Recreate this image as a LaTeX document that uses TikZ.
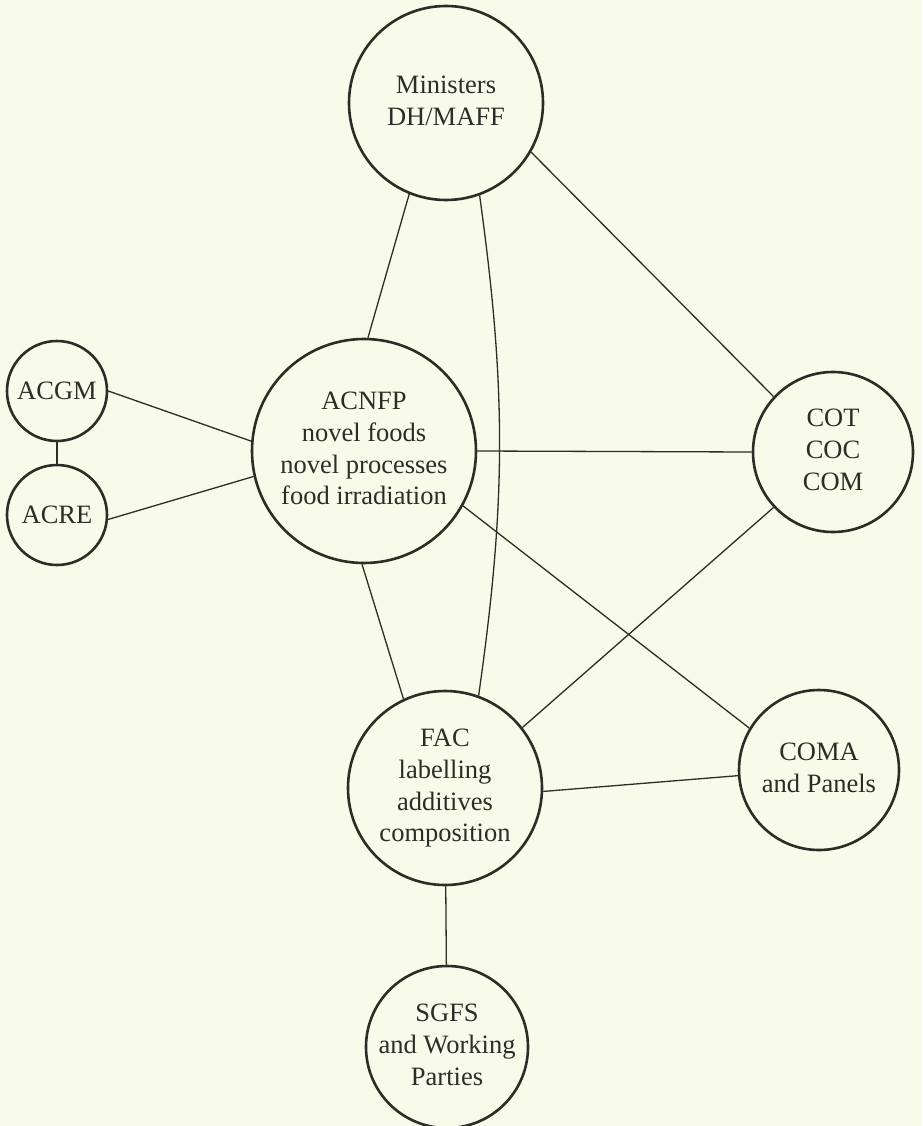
\documentclass[tikz,border=0pt]{standalone}
\usepackage{fontspec}
\setmainfont{Liberation Serif}
\usepackage{tikz}
\usetikzlibrary{positioning}
\definecolor{paper}{RGB}{248,250,234}
\definecolor{ink}{RGB}{45,45,40}
\tikzset{
    bubble/.style={
           circle,
           draw=ink, line width=2.6pt,
           text=ink,
           inner sep=0pt,
           text centered,
           font=\fontsize{26.5}{31.7}\selectfont,
           },
}
\begin{document}
\begin{tikzpicture}
[
draw=ink, line width=1.3pt
]

 % paper and frame
 \fill[paper] (0,0) rectangle (922pt,-1126pt);
 \useasboundingbox (0,0) rectangle (922pt,-1126pt);

 % MINISTERS
 \node[bubble,
 minimum size=194pt] (MIN) at (446pt,-103pt)
 {%
 \begin{tabular}{@{}c@{}}
  Ministers\\
  DH/MAFF
 \end{tabular}
 };

 % ACNFP
 \node[bubble,
 below of=MIN,
 node distance=348pt,
 xshift=-82pt,
 minimum size=224pt] (ACNFP)
 {%
 \begin{tabular}{@{}c@{}}
  ACNFP\\
  novel foods\\
  novel processes\\
  food irradiation
 \end{tabular}
 };

 % ACGM / ACRE
 \node[bubble,
 left of=ACNFP,
 node distance=307pt,
 yshift=60pt,
 minimum size=100pt] (ACGM)
 {ACGM};

 \node[bubble,
 below of=ACGM,
 node distance=124pt,
 minimum size=100pt] (ACRE)
 {ACRE};

 % COT COC COM
 \node[bubble,
 right of=ACNFP,
 node distance=469pt,
 yshift=-1pt,
 minimum size=160pt] (COT)
 {%
 \begin{tabular}{@{}c@{}}
  COT\\
  COC\\
  COM
 \end{tabular}
 };

 % FAC
 \node[bubble,
 below of=MIN,
 node distance=685pt,
 xshift=-1pt,
 minimum size=194pt] (FAC)
 {%
 \begin{tabular}{@{}c@{}}
  FAC\\
  labelling\\
  additives\\
  composition
 \end{tabular}
 };

 % COMA
 \node[bubble,
 right of=FAC,
 node distance=374pt,
 yshift=18pt,
 minimum size=160pt] (COMA)
 {%
 \begin{tabular}{@{}c@{}}
  COMA\\
  and Panels
 \end{tabular}
 };

 % SGFS
 \node[bubble,
 below of=FAC,
 node distance=259pt,
 xshift=2pt,
 inner sep=-8pt,
 minimum size=162pt] (SGFS)
 {%
 \begin{tabular}{@{}c@{}}
  SGFS\\
  and Working\\
  Parties
 \end{tabular}
 };

 % links
 \path
  (MIN.248) edge (ACNFP.88)
  (MIN.290) edge[bend left=8] (FAC.70)
  (MIN.330) edge (COT.137)
  (ACGM) edge (ACRE)
  (ACGM.0) edge (ACNFP.175)
  (ACRE.355) edge (ACNFP.193)
  (ACNFP.0) edge (COT.180)
  (ACNFP.331) edge (COMA.149)
  (ACNFP.269) edge (FAC.115)
  (COT.223) edge (FAC.38)
  (FAC.358) edge (COMA.184)
  (FAC) edge (SGFS)
 ;

\end{tikzpicture}
\end{document}
